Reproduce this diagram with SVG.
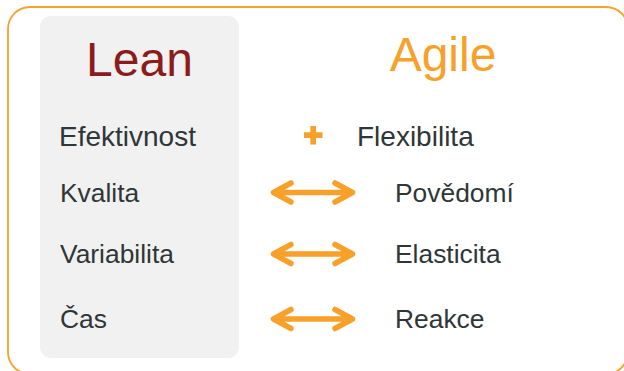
<svg xmlns="http://www.w3.org/2000/svg" width="624" height="371" viewBox="0 0 624 371">
<style>
.t{font-family:"Liberation Sans",Arial,sans-serif;font-size:26.4px;fill:#2f3638}
.t1{font-size:28px}
.h{font-family:"Liberation Sans",Arial,sans-serif;font-size:48px;text-anchor:middle}
.arr{fill:none;stroke:#f7a12b;stroke-width:5.5;stroke-linecap:round;stroke-linejoin:round}
</style>
<rect x="8" y="7" width="620" height="367" rx="22" fill="#ffffff" stroke="#f7a12b" stroke-width="1.8"/>
<g id="lean">
<rect x="40" y="16" width="199" height="342" rx="11" fill="#f1f1f1"/>
<text class="h" x="139.5" y="76" fill="#8c1c1c">Lean</text>
<text class="t t1" x="59" y="146">Efektivnost</text>
<text class="t" x="60" y="202">Kvalita</text>
<text class="t" x="60" y="263">Variabilita</text>
<text class="t" x="60" y="328">Čas</text>
</g>
<g id="agile">
<text class="h" x="443" y="71" fill="#f7a12b">Agile</text>
<text class="t t1" x="357" y="146">Flexibilita</text>
<text class="t" x="395" y="202">Povědomí</text>
<text class="t" x="395" y="263">Elasticita</text>
<text class="t" x="395" y="328">Reakce</text>
</g>
<g id="connectors">
<path d="M304 135.2H322.5M313.2 126V144.4" fill="none" stroke="#f7a12b" stroke-width="5.7"/>
<path class="arr" d="M273.5 192.5H352.5M291 183L273.5 192.5L291 202M335 183L352.5 192.5L335 202"/>
<path class="arr" d="M273.5 254H352.5M291 244.5L273.5 254L291 263.5M335 244.5L352.5 254L335 263.5"/>
<path class="arr" d="M273.5 319H352.5M291 309.5L273.5 319L291 328.5M335 309.5L352.5 319L335 328.5"/>
</g>
</svg>
